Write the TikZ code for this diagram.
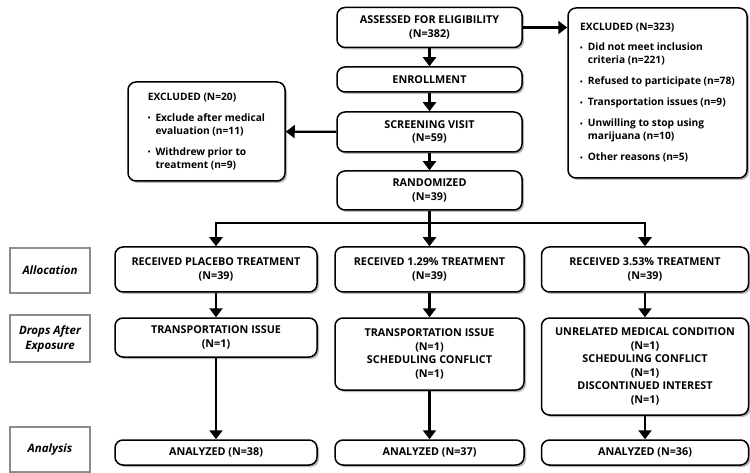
\documentclass[tikz,border=0pt]{standalone}
\usepackage{fontspec}
\setmainfont{Open Sans}
\usetikzlibrary{arrows.meta,shadows}

\tikzset{
  box/.style={draw, line width=1.5pt, rounded corners=8pt, fill=white,
    align=center, font=\bfseries\fontsize{10.8}{13.5}\selectfont,
    drop shadow={shadow xshift=2pt, shadow yshift=-2pt, fill=black!45, opacity=.6},
    inner sep=2pt},
  exclbox/.style={box, align=left, font=\bfseries\fontsize{10.2}{13}\selectfont},
  lblbox/.style={draw=black!45, line width=1.2pt, fill=white, align=center,
    minimum width=80pt, font=\bfseries\itshape\fontsize{11.5}{15}\selectfont,
    drop shadow={shadow xshift=1pt, shadow yshift=-1pt, fill=black!25, opacity=.6}},
}
\newcommand{\blt}{\raisebox{.5pt}{\scriptsize\textbullet}}

\begin{document}
\begin{tikzpicture}[x=1pt,y=-1pt]
    \useasboundingbox (0,0) rectangle (750,473);
    %% Draw the main column
    \node[box, minimum width=185pt, minimum height=40pt] (Assess) at (429.5,27.5) {ASSESSED FOR ELIGIBILITY\\(N=382)};
    \node[box, minimum width=185pt, minimum height=25pt] (Enroll) at (429.5,79.5) {ENROLLMENT};
    \node[box, minimum width=185pt, minimum height=40pt] (Screen) at (429.5,132) {SCREENING VISIT\\(N=59)};
    \node[box, minimum width=185pt, minimum height=39pt] (Rand) at (429.5,190.5) {RANDOMIZED\\(N=39)};
    %% Draw the exclusions
    \node[exclbox, minimum width=157pt, minimum height=99pt] (ExclL) at (206.5,131.5) {%
      \begin{tabular}{@{}l@{\hspace{5pt}}l@{}}
        \multicolumn{2}{@{}l}{EXCLUDED (N=20)}\\[8pt]
        \blt & Exclude after medical\\
             & evaluation (n=11)\\[8pt]
        \blt & Withdrew prior to\\
             & treatment (n=9)
      \end{tabular}};
    \node[exclbox, minimum width=179pt, minimum height=170pt] (ExclR) at (657.5,93) {%
      \begin{tabular}{@{}l@{\hspace{5pt}}l@{}}
        \multicolumn{2}{@{}l}{EXCLUDED (N=323)}\\[7pt]
        \blt & Did not meet inclusion\\
             & criteria (n=221)\\[8pt]
        \blt & Refused to participate (n=78)\\[8pt]
        \blt & Transportation issues (n=9)\\[8pt]
        \blt & Unwilling to stop using\\
             & marijuana (n=10)\\[8pt]
        \blt & Other reasons (n=5)
      \end{tabular}};
    %% Draw the row labels
    \node[lblbox, minimum height=45pt] (LAlloc) at (50,270.5) {Allocation};
    \node[lblbox, minimum height=47pt] (LDrops) at (50,338.5) {Drops After\\Exposure};
    \node[lblbox, minimum height=45pt] (LAnaly) at (50,449.5) {Analysis};
    %% Draw the treatment arms
    \node[box, minimum width=202pt, minimum height=45pt] (P) at (216,269.5) {RECEIVED PLACEBO TREATMENT\\(N=39)};
    \node[box, minimum width=189pt, minimum height=45pt] (L) at (429.5,269.5) {RECEIVED 1.29\% TREATMENT\\(N=39)};
    \node[box, minimum width=207pt, minimum height=45pt] (H) at (645,269.5) {RECEIVED 3.53\% TREATMENT\\(N=39)};
    \node[box, minimum width=202pt, minimum height=39pt] (PD) at (216,337.5) {TRANSPORTATION ISSUE\\(N=1)};
    \node[box, minimum width=189pt, minimum height=72pt] (LD) at (429.5,354) {TRANSPORTATION ISSUE\\(N=1)\\SCHEDULING CONFLICT\\(N=1)};
    \node[box, minimum width=207pt, minimum height=97pt] (HD) at (645,366.5) {UNRELATED MEDICAL CONDITION\\(N=1)\\SCHEDULING CONFLICT\\(N=1)\\DISCONTINUED INTEREST\\(N=1)};
    \node[box, minimum width=202pt, minimum height=25pt] (PA) at (216,452.5) {ANALYZED (N=38)};
    \node[box, minimum width=189pt, minimum height=25pt] (LA) at (429.5,452.5) {ANALYZED (N=37)};
    \node[box, minimum width=207pt, minimum height=25pt] (HA) at (645,452.5) {ANALYZED (N=36)};
    \coordinate (Split) at (429.5,223);
    %% Draw the edges
    \begin{scope}[every path/.style={line width=2.2pt, -{Triangle[width=13pt,length=9pt]}}]
      \draw (Assess) -- (Enroll);
      \draw (Enroll) -- (Screen);
      \draw (Screen) -- (Rand);
      \draw (Screen) -- (ExclL);
      \draw (Assess.east) -- (Assess.east -| ExclR.west);
      \draw (Rand) -- (L);
      \draw (Split) -| (P);
      \draw (Split) -| (H);
      \draw (P) -- (PD);
      \draw (L) -- (LD);
      \draw (H) -- (HD);
      \draw (PD) -- (PA);
      \draw (LD) -- (LA);
      \draw (HD) -- (HA);
    \end{scope}
  \end{tikzpicture}
\end{document}
